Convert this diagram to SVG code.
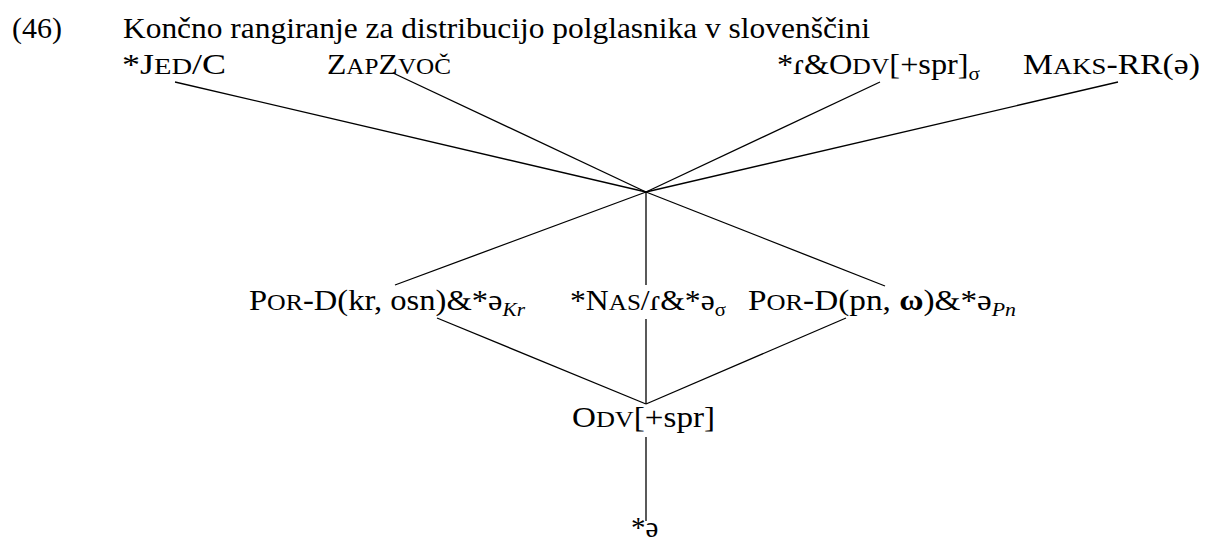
<svg xmlns="http://www.w3.org/2000/svg" width="1226" height="544" viewBox="0 0 1226 544">
<style>
text{font-family:"Liberation Serif","DejaVu Serif",serif;font-size:29px;fill:#000}
.sc{font-size:23px}
.sub{font-size:19px}
.it{font-style:italic}
.c line{stroke:#000;stroke-width:1.3;fill:none}
</style>
<rect width="1226" height="544" fill="#fff"/>
<g id="title">
<text x="12" y="38" textLength="50" lengthAdjust="spacingAndGlyphs">(46)</text>
<text x="123" y="38" textLength="747" lengthAdjust="spacingAndGlyphs">Končno rangiranje za distribucijo polglasnika v slovenščini</text>
</g>
<g id="jed"><text x="122" y="74" textLength="104" lengthAdjust="spacingAndGlyphs">*J<tspan class="sc">ED</tspan>/C</text></g>
<g id="zapzvoc"><text x="327" y="74" textLength="124" lengthAdjust="spacingAndGlyphs">Z<tspan class="sc">AP</tspan>Z<tspan class="sc">VOČ</tspan></text></g>
<g id="odvsigma"><text x="777" y="74" textLength="203" lengthAdjust="spacingAndGlyphs">*ɾ&amp;O<tspan class="sc">DV</tspan>[+spr]<tspan class="sub" dy="6">σ</tspan></text></g>
<g id="maks"><text x="1023" y="74" textLength="177" lengthAdjust="spacingAndGlyphs">M<tspan class="sc">AKS</tspan>-RR(ə)</text></g>
<g id="porkr"><text x="249" y="310" textLength="276" lengthAdjust="spacingAndGlyphs">P<tspan class="sc">OR</tspan>-D(kr, osn)&amp;*ə<tspan class="sub it" dy="6">Kr</tspan></text></g>
<g id="nas"><text x="570" y="310" textLength="156" lengthAdjust="spacingAndGlyphs">*N<tspan class="sc">AS</tspan>/ɾ&amp;*ə<tspan class="sub" dy="6">σ</tspan></text></g>
<g id="porpn"><text x="748" y="310" textLength="268" lengthAdjust="spacingAndGlyphs">P<tspan class="sc">OR</tspan>-D(pn, <tspan font-weight="bold">ω</tspan>)&amp;*ə<tspan class="sub it" dy="6">Pn</tspan></text></g>
<g id="odv"><text x="572" y="427" textLength="143" lengthAdjust="spacingAndGlyphs">O<tspan class="sc">DV</tspan>[+spr]</text></g>
<g id="schwa"><text x="631" y="537">*ə</text></g>
<g class="c" id="connectors">
<line x1="175" y1="82" x2="646" y2="192"/>
<line x1="393" y1="73" x2="646" y2="192"/>
<line x1="880" y1="82" x2="646" y2="192"/>
<line x1="1118" y1="82" x2="646" y2="192"/>
<line x1="646" y1="192" x2="395" y2="285"/>
<line x1="646" y1="192" x2="646" y2="285"/>
<line x1="646" y1="192" x2="885" y2="286"/>
<line x1="437" y1="318" x2="646" y2="404"/>
<line x1="646" y1="319" x2="646" y2="404"/>
<line x1="846" y1="318" x2="646" y2="404"/>
<line x1="646" y1="437" x2="646" y2="521"/>
</g>
</svg>
